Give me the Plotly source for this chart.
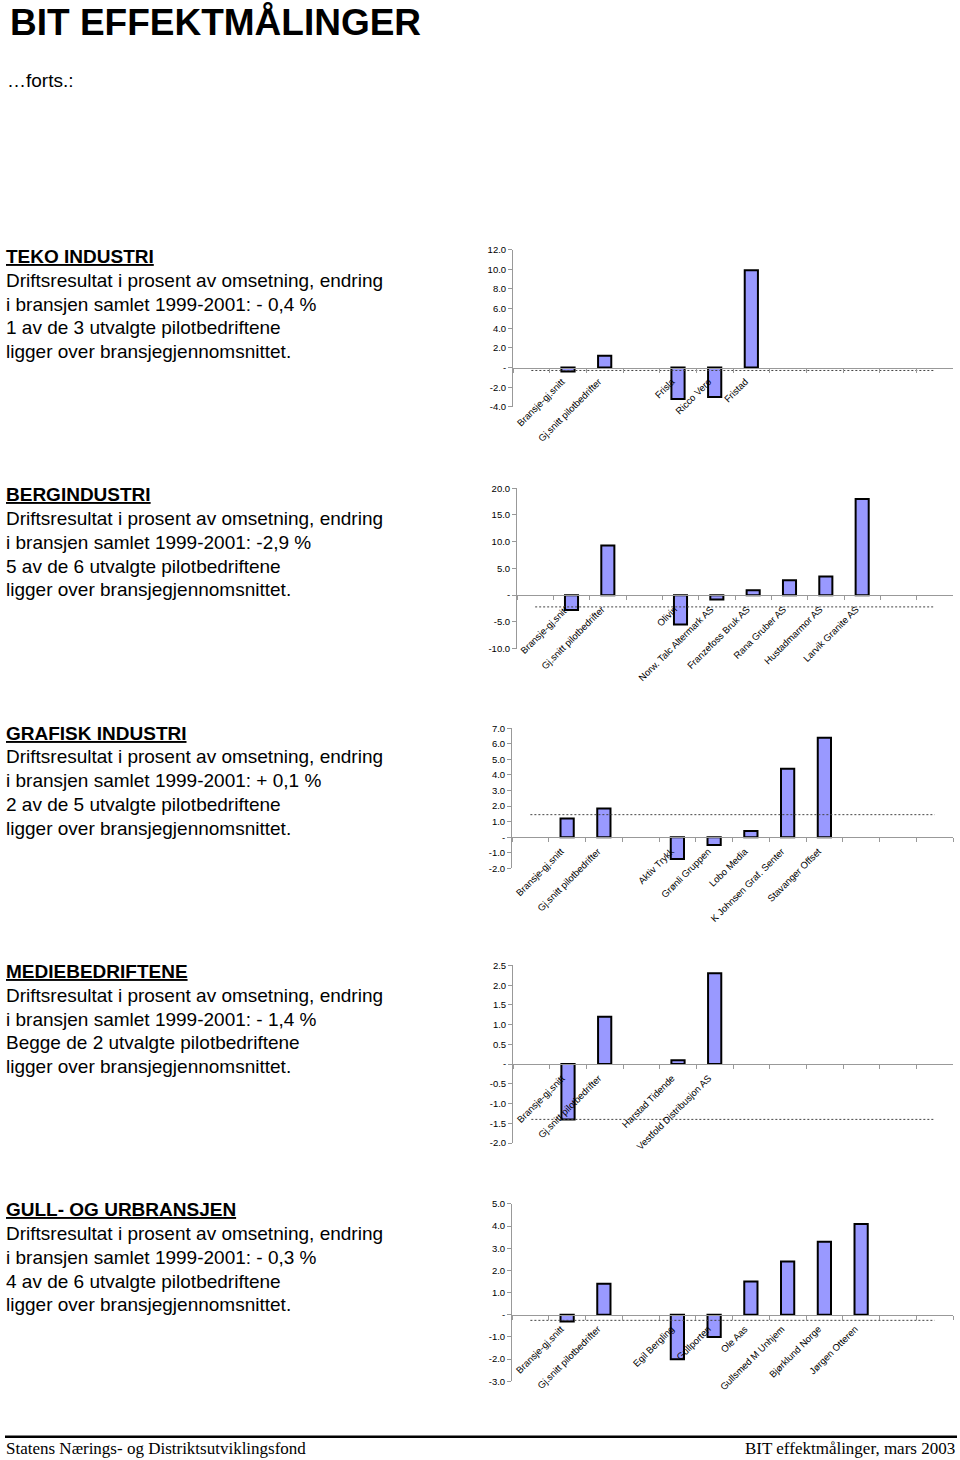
import plotly.graph_objects as go

W, H = 960, 1460

# ---------------- data ----------------
teko_categories = ["", "Bransje-gj.snitt", "Gj.snitt pilotbedrifter", "", "Frisla", "Ricco Vero", "Fristad",
                   "", "", "", "", ""]
teko_values = [None, -0.4, 1.2, None, -3.2, -3.0, 9.9, None, None, None, None, None]
teko_avg = -0.3
teko_yticks = [-4, -2, 0, 2, 4, 6, 8, 10, 12]

berg_categories = ["", "Bransje-gj.snitt", "Gj.snitt pilotbedrifter", "", "Olivin", "Norw. Talc Altermark AS",
                   "Franzefoss Bruk AS", "Rana Gruber AS", "Hustadmarmor AS", "Larvik Granite AS", "", ""]
berg_values = [None, -2.8, 9.3, None, -5.5, -0.8, 0.9, 2.8, 3.5, 18.0, None, None]
berg_avg = -2.2
berg_yticks = [-10, -5, 0, 5, 10, 15, 20]

graf_categories = ["", "Bransje-gj.snitt", "Gj.snitt pilotbedrifter", "", "Aktiv Trykk", "Grønli Gruppen",
                   "Lobo Media", "K Johnsen Graf. Senter", "Stavanger Offset", "", "", ""]
graf_values = [None, 1.2, 1.85, None, -1.4, -0.5, 0.4, 4.4, 6.4, None, None, None]
graf_avg = 1.45
graf_yticks = [-2, -1, 0, 1, 2, 3, 4, 5, 6, 7]

medie_categories = ["", "Bransje-gj.snitt", "Gj.snitt pilotbedrifter", "", "Harstad Tidende",
                    "Vestfold Distribusjon AS", "", "", "", "", "", ""]
medie_values = [None, -1.4, 1.2, None, 0.1, 2.3, None, None, None, None, None, None]
medie_avg = -1.4
medie_yticks = [-2.0, -1.5, -1.0, -0.5, 0, 0.5, 1.0, 1.5, 2.0, 2.5]

gull_categories = ["", "Bransje-gj.snitt", "Gj.snitt pilotbedrifter", "", "Egil Bergling", "Gullporten",
                   "Ole Aas", "Gullsmed M Unhjem", "Bjørklund Norge", "Jørgen Otteren", "", ""]
gull_values = [None, -0.3, 1.4, None, -2.0, -1.0, 1.5, 2.4, 3.3, 4.1, None, None]
gull_avg = -0.25
gull_yticks = [-3, -2, -1, 0, 1, 2, 3, 4, 5]

section_titles = ["TEKO INDUSTRI", "BERGINDUSTRI", "GRAFISK INDUSTRI", "MEDIEBEDRIFTENE", "GULL- OG URBRANSJEN"]
section_changes = ["- 0,4 %", "-2,9 %", "+ 0,1 %", "- 1,4 %", "- 0,3 %"]
section_counts = ["1 av de 3 utvalgte pilotbedriftene", "5 av de 6 utvalgte pilotbedriftene",
                  "2 av de 5 utvalgte pilotbedriftene", "Begge de 2 utvalgte pilotbedriftene",
                  "4 av de 6 utvalgte pilotbedriftene"]

# ---------------- layout helpers ----------------
def py(px):
    """pixel row on the page -> paper fraction (with small vertical calibration)"""
    adj = 730 + (px - 730) * 1.0065
    return 1 - adj / H

# pixel geometry of each chart: (top px, bottom px, left px, right px)
charts = [
    (teko_categories, teko_values, teko_avg, teko_yticks, (248.5, 406.0, 513, 953)),
    (berg_categories, berg_values, berg_avg, berg_yticks, (487.5, 648.0, 517, 953)),
    (graf_categories, graf_values, graf_avg, graf_yticks, (727.8, 868.0, 512, 953)),
    (medie_categories, medie_values, medie_avg, medie_yticks, (965.2, 1143.0, 513, 953)),
    (gull_categories, gull_values, gull_avg, gull_yticks, (1204.0, 1381.5, 512, 953)),
]

FONT = "Liberation Sans, Arial, sans-serif"
fig = go.Figure()
layout = {}

def fmt(v):
    return "-" if v == 0 else f"{v:.1f}"

for i, (cats, vals, avg, yt, (top, bot, left, right)) in enumerate(charts):
    n = i + 1
    xa = "x" if n == 1 else f"x{n}"
    ya = "y" if n == 1 else f"y{n}"
    ucats = [c if c else " " * (j + 1) for j, c in enumerate(cats)]
    fig.add_trace(go.Bar(x=ucats, y=vals, xaxis=xa, yaxis=ya, width=0.36,
                         marker=dict(color="#9999FF", line=dict(color="#000000", width=2)),
                         showlegend=False, hoverinfo="skip"))
    fig.add_trace(go.Scatter(x=ucats, y=[avg] * len(ucats), xaxis=xa, yaxis=ya, mode="lines",
                             line=dict(color="#444444", width=1, dash="2px,2px"),
                             showlegend=False, hoverinfo="skip"))
    d0, d1 = py(bot), py(top)
    ymin, ymax = yt[0], yt[-1]
    zero_pos = d0 + (0 - ymin) / (ymax - ymin) * (d1 - d0)
    layout[f"xaxis{'' if n == 1 else n}"] = dict(
        domain=[left / W, right / W], anchor="free", position=zero_pos,
        type="category", categoryorder="array", categoryarray=ucats,
        showline=True, linecolor="#999999", linewidth=1,
        ticks="outside", tickson="boundaries", ticklen=4, tickcolor="#999999",
        tickangle=-45, tickfont=dict(family=FONT, size=9.5, color="#000000"),
        ticklabelstandoff=4, ticklabelshift=-6,
        showgrid=False, zeroline=False, fixedrange=True,
    )
    layout[f"yaxis{'' if n == 1 else n}"] = dict(
        domain=[d0, d1], anchor=xa, range=[ymin, ymax],
        tickmode="array", tickvals=yt, ticktext=[fmt(v) for v in yt],
        showline=True, linecolor="#999999", linewidth=1,
        ticks="outside", ticklen=4, tickcolor="#999999",
        tickfont=dict(family=FONT, size=9.5, color="#000000"),
        showgrid=False, zeroline=False, fixedrange=True,
    )

annotations = []
annotations.append(dict(text="<b>BIT EFFEKTMÅLINGER</b>", x=8 / W, y=py(21.5), xref="paper", yref="paper",
                        xanchor="left", yanchor="middle", showarrow=False,
                        font=dict(family=FONT, size=37, color="#000000")))
annotations.append(dict(text="…forts.:", x=5 / W, y=py(79), xref="paper", yref="paper",
                        xanchor="left", yanchor="middle", showarrow=False,
                        font=dict(family=FONT, size=19, color="#000000")))

for k in range(5):
    base = 255.5 + 238.6 * k
    lines = [f"<b><u>{section_titles[k]}</u></b>",
             "Driftsresultat i prosent av omsetning, endring",
             f"i bransjen samlet 1999-2001: {section_changes[k]}",
             section_counts[k],
             "ligger over bransjegjennomsnittet."]
    for li, t in enumerate(lines):
        annotations.append(dict(text=t, x=4 / W, y=py(base + 23.8 * li), xref="paper", yref="paper",
                                xanchor="left", yanchor="middle", showarrow=False,
                                font=dict(family=FONT, size=19, color="#000000")))

SERIF = "Liberation Serif, Times New Roman, serif"
annotations.append(dict(text="Statens Nærings- og Distriktsutviklingsfond", x=4 / W, y=py(1448.5),
                        xref="paper", yref="paper", xanchor="left", yanchor="middle", showarrow=False,
                        font=dict(family=SERIF, size=17, color="#000000")))
annotations.append(dict(text="BIT effektmålinger, mars 2003", x=957 / W, y=py(1448.5),
                        xref="paper", yref="paper", xanchor="right", yanchor="middle", showarrow=False,
                        font=dict(family=SERIF, size=17, color="#000000")))

shapes = [dict(type="line", xref="paper", yref="paper", x0=5 / W, x1=957 / W,
               y0=py(1437), y1=py(1437), line=dict(color="#000000", width=2.5))]

fig.update_layout(width=W, height=H, margin=dict(l=0, r=0, t=0, b=0, pad=0),
                  paper_bgcolor="white", plot_bgcolor="white", bargap=0.5,
                  annotations=annotations, shapes=shapes, **layout)

fig.write_html("out.html", config={"displayModeBar": False},
               post_script="document.body.style.margin='0px';")
